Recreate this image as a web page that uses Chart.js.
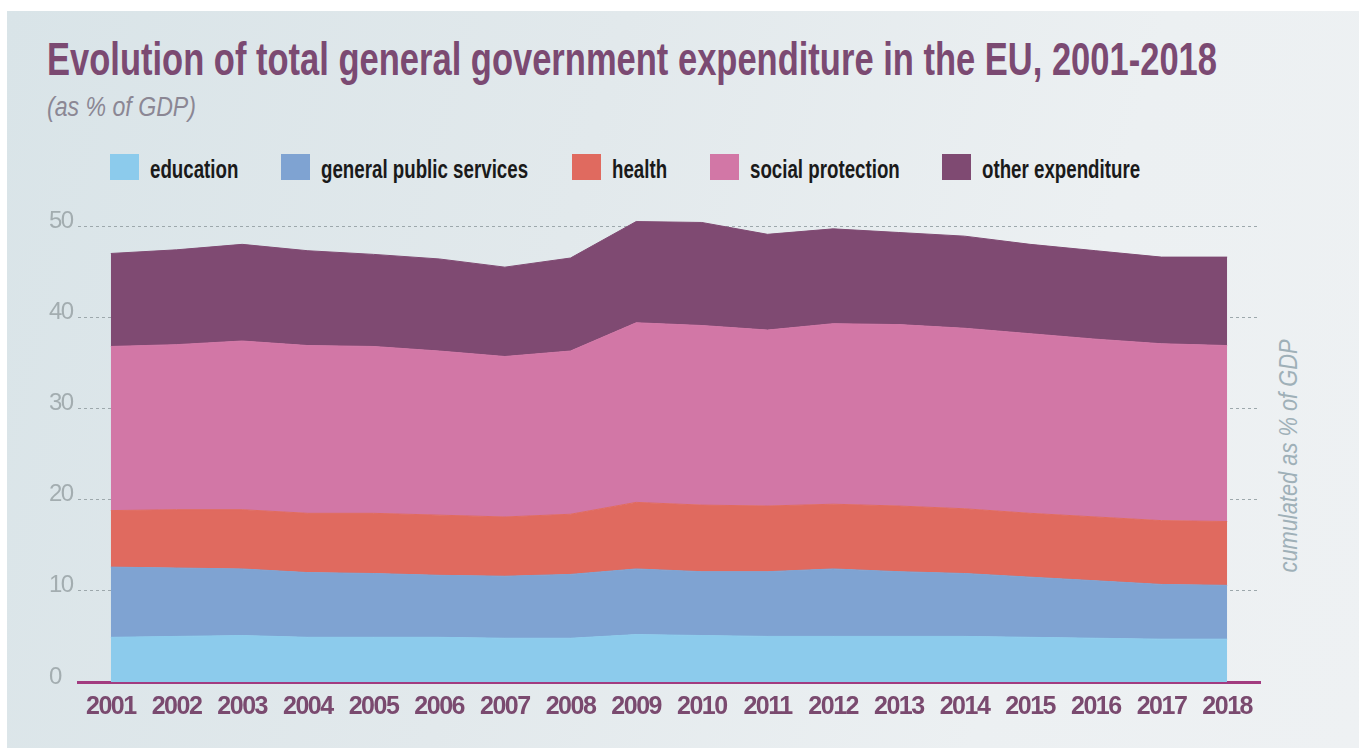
<!DOCTYPE html>
<html>
<head>
<meta charset="utf-8">
<title>Evolution of total general government expenditure in the EU, 2001-2018</title>
<script src="https://cdn.jsdelivr.net/npm/chart.js@4.4.1/dist/chart.umd.min.js"></script>
<style>
    html, body {
        margin: 0;
        padding: 0;
        background: #fff;
    }
    body {
        position: relative;
        width: 1359px;
        height: 751px;
        overflow: hidden;
        font-family: "Liberation Sans", Arial, sans-serif;
    }
    #panel {
        position: absolute;
        left: 7px;
        top: 11px;
        right: 0;
        bottom: 3px;
        background: linear-gradient(105deg, #d9e4e8 0%, #e2e9ec 40%, #ecf0f2 75%, #eef1f3 100%);
    }
    #chart-box {
        position: absolute;
        left: 0;
        top: 0;
        width: 1359px;
        height: 751px;
    }
    .title {
        position: absolute;
        left: 47px;
        top: 36px;
        margin: 0;
        font-size: 46px;
        line-height: 46px;
        font-weight: bold;
        color: #7b4a72;
        white-space: nowrap;
        transform-origin: 0 50%;
    }
    .subtitle {
        position: absolute;
        left: 47px;
        top: 92px;
        margin: 0;
        font-size: 27px;
        line-height: 30px;
        font-style: italic;
        color: #8b8794;
        white-space: nowrap;
    }
    #legend {
        position: absolute;
        left: 110px;
        top: 154px;
        display: flex;
        align-items: center;
        height: 26px;
    }
    .legend-item {
        display: flex;
        align-items: center;
        margin-right: 43px;
    }
    .legend-box {
        width: 29px;
        height: 26px;
        margin-right: 11px;
    }
    .legend-text {
        position: relative;
        top: 2px;
        font-size: 26px;
        font-weight: bold;
        color: #1a1a1a;
        white-space: nowrap;
    }
    .side-title {
        position: absolute;
        left: 1288px;
        top: 456px;
        transform: translate(-50%, -50%) rotate(-90deg) scaleX(0.84);
        font-size: 26px;
        font-style: italic;
        color: #9fb0b8;
        white-space: nowrap;
    }
</style>
</head>
<body>
<div id="panel"></div>
<h1 class="title" id="title">Evolution of total general government expenditure in the EU, 2001-2018</h1>
<div class="subtitle" id="subtitle">(as % of GDP)</div>
<div id="legend"></div>
<div class="side-title">cumulated as % of GDP</div>
<div id="chart-box"><canvas id="area-chart"></canvas></div>

<script>
// 年份 (x 軸)
const years = ['2001', '2002', '2003', '2004', '2005', '2006', '2007', '2008', '2009',
    '2010', '2011', '2012', '2013', '2014', '2015', '2016', '2017', '2018'];

// 各項支出 (% of GDP)，由下往上堆疊
const education = [4.9, 5.0, 5.1, 4.9, 4.9, 4.9, 4.8, 4.8, 5.2, 5.1, 5.0, 5.0, 5.0, 5.0, 4.9, 4.8, 4.7, 4.7];
const generalPublicServices = [7.7, 7.5, 7.3, 7.1, 7.0, 6.8, 6.8, 7.0, 7.2, 7.0, 7.1, 7.4, 7.1, 6.9, 6.6, 6.3, 6.0, 5.9];
const health = [6.2, 6.4, 6.5, 6.5, 6.6, 6.6, 6.5, 6.6, 7.3, 7.3, 7.2, 7.1, 7.2, 7.1, 7.0, 7.0, 7.0, 7.0];
const socialProtection = [18.0, 18.1, 18.5, 18.4, 18.3, 18.0, 17.6, 17.9, 19.7, 19.7, 19.3, 19.8, 19.9, 19.8, 19.7, 19.5, 19.4, 19.3];
const otherExpenditure = [10.2, 10.4, 10.6, 10.4, 10.1, 10.1, 9.8, 10.2, 11.1, 11.3, 10.5, 10.4, 10.1, 10.1, 9.8, 9.7, 9.5, 9.7];

const seriesNames = ['education', 'general public services', 'health', 'social protection', 'other expenditure'];
const yTicks = [0, 10, 20, 30, 40, 50];

// 顏色
const seriesColors = ['#8ccbec', '#7fa3d2', '#e06a5f', '#d277a6', '#7f4a72'];
const fontFamily = '"Liberation Sans", Arial, sans-serif';

let seriesValues = [education, generalPublicServices, health, socialProtection, otherExpenditure];

// 圖例
let makeLegend = (dom) => {
    dom.innerHTML = seriesNames.map((name, i) => `
        <div class="legend-item">
            <div class="legend-box" style="background:${seriesColors[i]}"></div>
            <div class="legend-text">${name}</div>
        </div>
    `).join("");
}

// 原圖是窄體字，這裡用 scaleX 壓窄 (並把多出的寬度收回)
let condense = (el, k) => {
    el.style.display = 'inline-block';
    let w = el.getBoundingClientRect().width;
    el.style.transformOrigin = '0 50%';
    el.style.transform = `scaleX(${k})`;
    el.style.marginRight = `${-(1 - k) * w}px`;
}

// 標題壓到指定寬度
let fitWidth = (el, target) => {
    let w = el.getBoundingClientRect().width;
    if (w > 0) el.style.transform = `scaleX(${target / w})`;
}

// canvas 文字也縮一點字距
const narrowText = {
    id: 'narrowText',
    beforeDraw: (chart) => { chart.ctx.letterSpacing = '-1.5px'; }
};

let makeChart = () => {
    new Chart(
        document.getElementById('area-chart'),
        {
            type: 'line',
            data: {
                labels: years,
                datasets: seriesValues.map((vals, i) => ({
                    label: seriesNames[i],
                    data: vals,
                    backgroundColor: seriesColors[i],
                    borderColor: seriesColors[i],
                    borderWidth: 1,
                    pointRadius: 0,
                    tension: 0,
                    fill: i === 0 ? 'origin' : '-1'
                }))
            },
            options: {
                responsive: true,
                maintainAspectRatio: false,
                animation: false,
                layout: { padding: { left: 49, right: 99, top: 217, bottom: 19 } },
                plugins: {
                    legend: { display: false },
                    tooltip: { enabled: false }
                },
                scales: {
                    x: {
                        offset: true,
                        grid: { display: false, drawTicks: false },
                        border: { display: true, color: '#a23c80', width: 3 },
                        ticks: {
                            color: '#7a4a6f',
                            font: { family: fontFamily, size: 25, weight: 'bold' },
                            padding: 10,
                            maxRotation: 0,
                            autoSkip: false
                        },
                        afterFit: (axis) => { axis.height = 50; }
                    },
                    y: {
                        stacked: true,
                        min: 0,
                        max: 51,
                        grid: { color: '#9da8ac', lineWidth: 1, drawTicks: false },
                        border: { display: false, dash: [3, 3] },
                        ticks: {
                            color: '#a3adb0',
                            font: { family: fontFamily, size: 24 },
                            crossAlign: 'far',
                            padding: 0,
                            labelOffset: -5
                        },
                        afterBuildTicks: (axis) => { axis.ticks = yTicks.map(v => ({ value: v })); },
                        afterFit: (axis) => { axis.width = 29; }
                    }
                }
            },
            plugins: [narrowText]
        }
    );
}

makeLegend(document.getElementById('legend'));
document.querySelectorAll('.legend-text').forEach((el) => condense(el, 0.72));
condense(document.getElementById('subtitle'), 0.856);
fitWidth(document.getElementById('title'), 1170);
makeChart();
</script>
</body>
</html>
